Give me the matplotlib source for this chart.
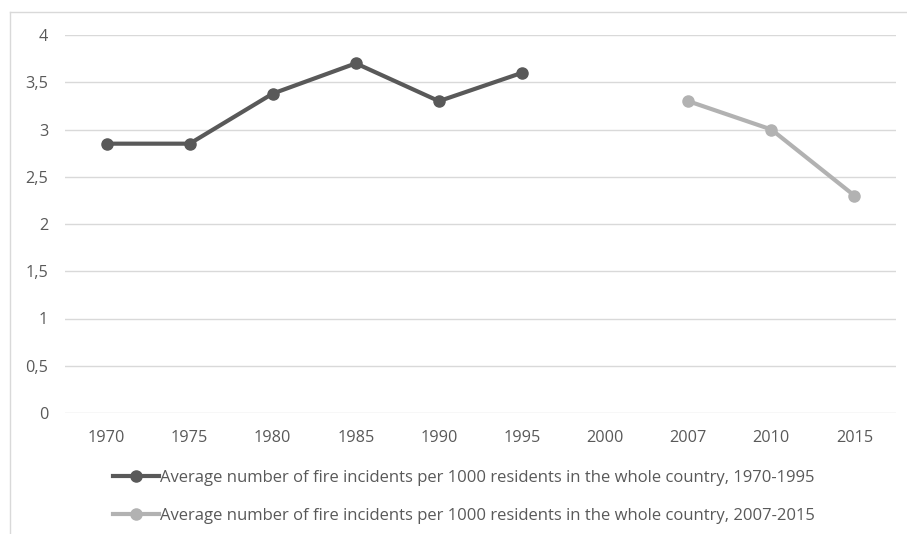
import matplotlib
matplotlib.use("Agg")
import matplotlib.pyplot as plt
from matplotlib.lines import Line2D
import numpy as np

categories = ["1970", "1975", "1980", "1985", "1990", "1995", "2000", "2007", "2010", "2015"]
series1 = [2.85, 2.85, 3.38, 3.70, 3.30, 3.60, None, None, None, None]
series2 = [None, None, None, None, None, None, None, 3.30, 3.00, 2.30]
label1 = "Average number of fire incidents per 1000 residents in the whole country, 1970-1995"
label2 = "Average number of fire incidents per 1000 residents in the whole country, 2007-2015"
yticks = [0, 0.5, 1, 1.5, 2, 2.5, 3, 3.5, 4]
ytick_labels = ["0", "0,5", "1", "1,5", "2", "2,5", "3", "3,5", "4"]

plt.rcParams['font.family'] = ['Open Sans', 'DejaVu Sans']

W, H = 907, 534
fig = plt.figure(figsize=(W / 100, H / 100), dpi=100)
fig.patch.set_facecolor("white")

ax = fig.add_axes([65 / W, (H - 413) / H, (896 - 65) / W, (413 - 35) / H])

x = np.arange(len(categories))
y1 = np.array([np.nan if v is None else v for v in series1], dtype=float)
y2 = np.array([np.nan if v is None else v for v in series2], dtype=float)

c1 = "#595959"
c2 = "#b2b2b2"
ax.plot(x, y1, color=c1, lw=3, marker="o", ms=8, label=label1, zorder=3)
ax.plot(x, y2, color=c2, lw=3, marker="o", ms=8, label=label2, zorder=3)

ax.set_xlim(-0.5, len(categories) - 0.5)
ax.set_ylim(0, 4)
ax.set_yticks(yticks)
ax.set_yticklabels(ytick_labels)
ax.set_xticks(x)
ax.set_xticklabels(categories)
ax.grid(axis="y", color="#d9d9d9", lw=1)
ax.set_axisbelow(True)
for s in ax.spines.values():
    s.set_visible(False)
ax.tick_params(axis="both", length=0, labelsize=11.7, labelcolor="#595959")
ax.tick_params(axis="y", pad=12)
ax.tick_params(axis="x", pad=12.5)

leg = ax.legend(loc="upper left", bbox_to_anchor=(113 / W, 1 - 470 / H),
                bbox_transform=fig.transFigure, frameon=False, fontsize=12,
                handlelength=2.75, handletextpad=0.05, labelspacing=1.32,
                borderaxespad=0, borderpad=0)
for t in leg.get_texts():
    t.set_color("#595959")

# chart border (partially visible)
fig.add_artist(Line2D([10 / W, 10 / W], [0, 1 - 12 / H], transform=fig.transFigure,
                      color="#d9d9d9", lw=1))
fig.add_artist(Line2D([10 / W, 1], [1 - 12 / H, 1 - 12 / H], transform=fig.transFigure,
                      color="#d9d9d9", lw=1))

fig.savefig("out.png", dpi=100, facecolor="white")
